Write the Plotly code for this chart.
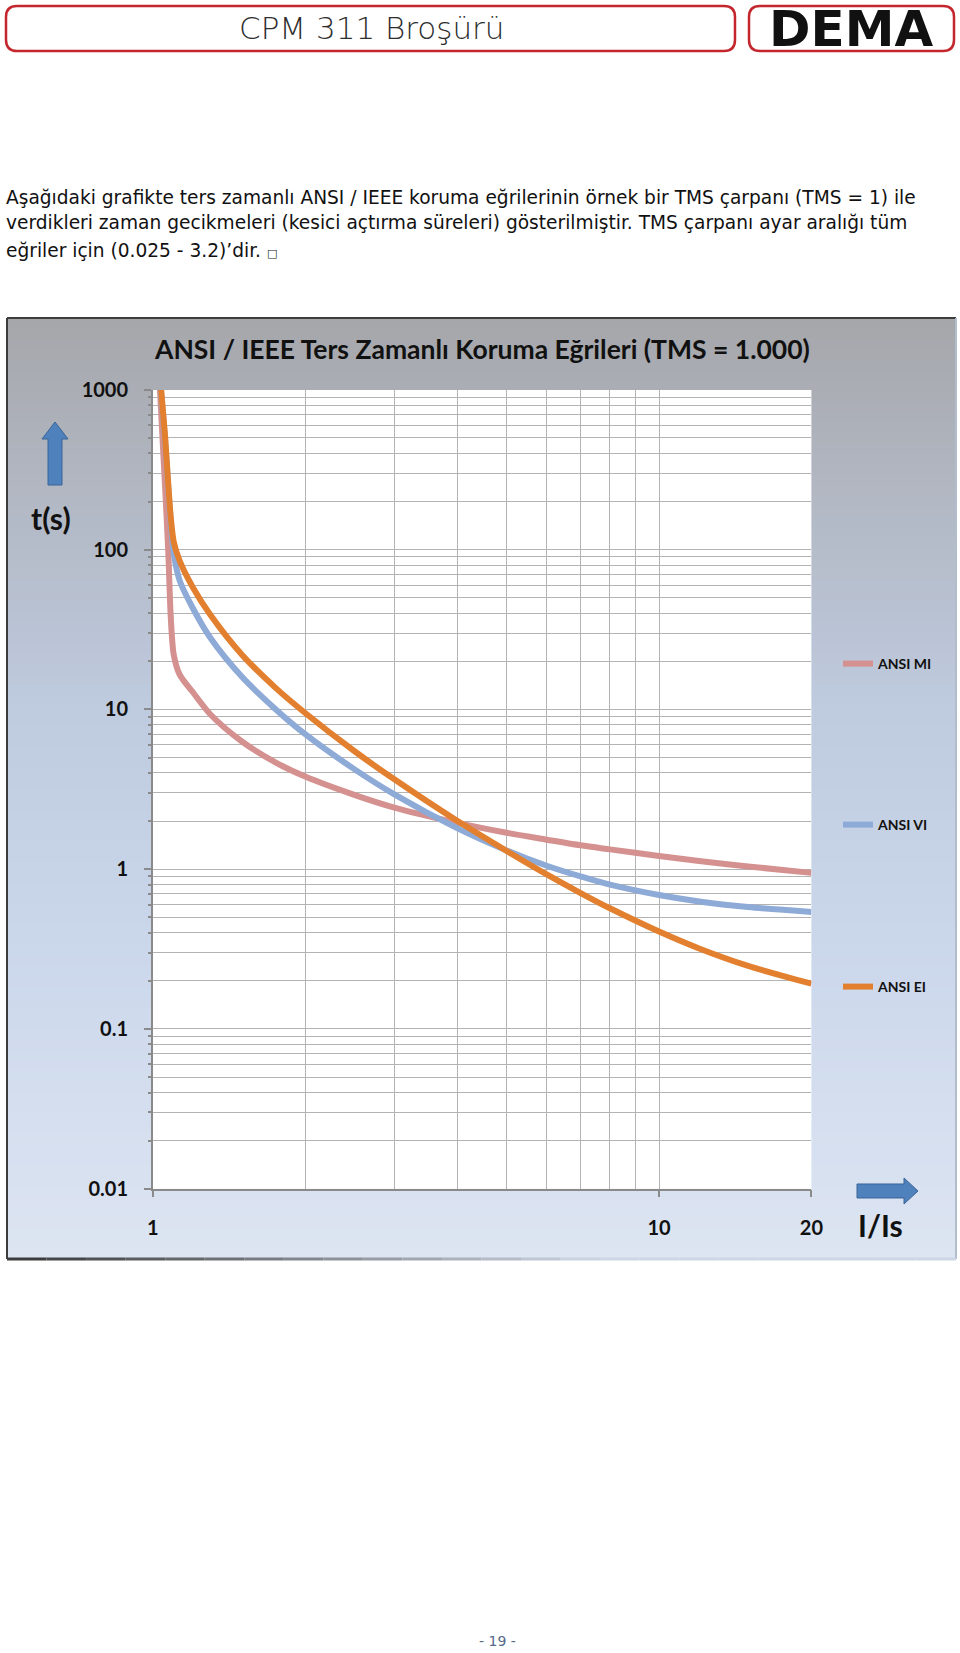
import plotly.graph_objects as go

W, H = 960, 1653

# ---------------- data ----------------
mi_x = [1.03, 1.057, 1.073, 1.085, 1.1, 1.13, 1.2, 1.3, 1.5, 1.75, 2, 2.5, 3, 4, 5, 6, 7, 8, 10, 12, 15, 20]
mi_t = [1200, 254, 97, 38, 22, 16.5, 12.8, 9.3, 6.3, 4.65, 3.8, 2.92, 2.43, 1.95, 1.69, 1.53, 1.41, 1.33, 1.21, 1.125, 1.04, 0.948]
vi_x = [1.035, 1.057, 1.073, 1.085, 1.1, 1.13, 1.2, 1.3, 1.5, 1.75, 2, 2.5, 3, 4, 5, 6, 7, 8, 10, 12, 15, 20]
vi_t = [1080, 500, 245, 150, 95, 64, 43, 28, 16, 10, 7.0, 4.23, 2.94, 1.80, 1.31, 1.05, 0.90, 0.80, 0.689, 0.628, 0.579, 0.540]
ei_x = [1.035, 1.057, 1.073, 1.085, 1.1, 1.13, 1.2, 1.3, 1.5, 1.75, 2, 2.5, 3, 4, 5, 6, 7, 8, 10, 12, 15, 20]
ei_t = [1150, 520, 255, 160, 112, 85, 58, 39, 22, 13.6, 9.5, 5.49, 3.65, 2.0, 1.30, 0.927, 0.709, 0.569, 0.407, 0.319, 0.248, 0.192]

series_names = ["ANSI MI", "ANSI VI", "ANSI EI"]
series_colors = ["#d4918f", "#8eaad6", "#e3802f"]

x_tick_vals = [1, 10, 20]
x_tick_text = ["1", "10", "20"]
y_tick_vals = [0.01, 0.1, 1, 10, 100, 1000]
y_tick_text = ["0.01", "0.1", "1", "10", "100", "1000"]

header_title = "CPM 311 Broşürü"
brand = "DEMA"
para_lines = [
    "Aşağıdaki grafikte ters zamanlı ANSI / IEEE koruma eğrilerinin örnek bir TMS çarpanı (TMS = 1) ile",
    "verdikleri zaman gecikmeleri (kesici açtırma süreleri) gösterilmiştir. TMS çarpanı ayar aralığı tüm",
    "eğriler için (0.025 - 3.2)’dir. <span style='font-size:11px'>□</span>",
]
chart_title = "ANSI / IEEE Ters Zamanlı Koruma Eğrileri (TMS = 1.000)"
y_label = "t(s)"
x_label = "I/Is"
footer = "- 19 -"


# ---------------- helpers (page pixels -> paper) ----------------
def px(x):
    return x / W


def py(y):
    return 1 - y / H


def path_from(points):
    return "M " + " L ".join(f"{px(a):.5f},{py(b):.5f}" for a, b in points) + " Z"


def rounded_rect(x0, y0, x1, y1, r):
    p = [
        f"M {px(x0 + r):.5f},{py(y0):.5f}",
        f"L {px(x1 - r):.5f},{py(y0):.5f}",
        f"Q {px(x1):.5f},{py(y0):.5f} {px(x1):.5f},{py(y0 + r):.5f}",
        f"L {px(x1):.5f},{py(y1 - r):.5f}",
        f"Q {px(x1):.5f},{py(y1):.5f} {px(x1 - r):.5f},{py(y1):.5f}",
        f"L {px(x0 + r):.5f},{py(y1):.5f}",
        f"Q {px(x0):.5f},{py(y1):.5f} {px(x0):.5f},{py(y1 - r):.5f}",
        f"L {px(x0):.5f},{py(y0 + r):.5f}",
        f"Q {px(x0):.5f},{py(y0):.5f} {px(x0 + r):.5f},{py(y0):.5f}",
        "Z",
    ]
    return " ".join(p)


def lerp_color(stops, y):
    for (ya, ca), (yb, cb) in zip(stops, stops[1:]):
        if ya <= y <= yb:
            t = (y - ya) / (yb - ya)
            c = [round(ca[i] + (cb[i] - ca[i]) * t) for i in range(3)]
            return f"rgb({c[0]},{c[1]},{c[2]})"
    c = stops[-1][1]
    return f"rgb({c[0]},{c[1]},{c[2]})"


# chart box geometry (page pixels)
CX0, CX1, CY0, CY1 = 7, 956, 318, 1259
PX0, PX1, PY0, PY1 = 152.8, 811.4, 389.9, 1188.7

shapes = []
grad_stops = [(CY0, (165, 166, 170)), (480, (177, 182, 193)), (700, (190, 202, 222)),
              (950, (203, 215, 235)), (CY1, (221, 229, 242))]
N = 90
for i in range(N):
    ya = CY0 + (CY1 - CY0) * i / N
    yb = CY0 + (CY1 - CY0) * (i + 1) / N
    shapes.append(dict(type="rect", xref="paper", yref="paper", layer="below",
                       x0=px(CX0), x1=px(CX1), y0=py(min(yb + 0.8, CY1)), y1=py(ya),
                       fillcolor=lerp_color(grad_stops, (ya + yb) / 2), line=dict(width=0)))
shapes.append(dict(type="rect", xref="paper", yref="paper", layer="below",
                   x0=px(PX0), x1=px(PX1), y0=py(PY1), y1=py(PY0),
                   fillcolor="white", line=dict(width=0)))
shapes.append(dict(type="line", xref="paper", yref="paper", x0=px(CX0), x1=px(CX1), y0=py(CY0), y1=py(CY0),
                   line=dict(color="#3c3c3c", width=2)))
shapes.append(dict(type="line", xref="paper", yref="paper", x0=px(CX0), x1=px(CX0), y0=py(CY0), y1=py(CY1),
                   line=dict(color="#3c3c3c", width=2)))
shapes.append(dict(type="line", xref="paper", yref="paper", x0=px(CX1), x1=px(CX1), y0=py(CY0), y1=py(CY1),
                   line=dict(color="#b3bccb", width=2)))
NB = 24
for i in range(NB):
    xa = CX0 + (CX1 - CX0) * i / NB
    xb = CX0 + (CX1 - CX0) * (i + 1) / NB
    t = min(1.0, i / (NB * 0.6))
    c = [round(60 + (205 - 60) * t), round(60 + (214 - 60) * t), round(60 + (228 - 60) * t)]
    shapes.append(dict(type="line", xref="paper", yref="paper", x0=px(xa), x1=px(xb), y0=py(CY1), y1=py(CY1),
                       line=dict(color=f"rgb({c[0]},{c[1]},{c[2]})", width=3)))

# header boxes
shapes.append(dict(type="path", xref="paper", yref="paper", path=rounded_rect(6, 6, 735, 51, 11),
                   line=dict(color="#c4262e", width=2.5), fillcolor="white"))
shapes.append(dict(type="path", xref="paper", yref="paper", path=rounded_rect(749, 6, 954, 51, 11),
                   line=dict(color="#c4262e", width=2.5), fillcolor="white"))

# arrows beside the axes
up_arrow = [(55, 422), (68, 439), (62, 439), (62, 485), (48, 485), (48, 439), (42, 439)]
shapes.append(dict(type="path", xref="paper", yref="paper", path=path_from(up_arrow),
                   fillcolor="#4f81bd", line=dict(color="#3a6497", width=1)))
right_arrow = [(857, 1184), (904, 1184), (904, 1178), (918, 1191), (904, 1204), (904, 1198), (857, 1198)]
shapes.append(dict(type="path", xref="paper", yref="paper", path=path_from(right_arrow),
                   fillcolor="#4f81bd", line=dict(color="#3a6497", width=1)))

# ---------------- traces ----------------
fig = go.Figure()
legend_ids = ["legend", "legend2", "legend3"]
for name, xs, ts, col, lg in zip(series_names, [mi_x, vi_x, ei_x], [mi_t, vi_t, ei_t],
                                 series_colors, legend_ids):
    fig.add_trace(go.Scatter(x=xs, y=ts, mode="lines", name=name, legend=lg,
                             line=dict(color=col, width=6, shape="spline", smoothing=0.8)))

# ---------------- annotations ----------------
ann = []


def text(x, y, s, size, family, color="#111111", weight="normal", xanchor="center"):
    ann.append(dict(x=px(x), y=py(y), xref="paper", yref="paper", text=s, showarrow=False,
                    xanchor=xanchor, yanchor="middle",
                    font=dict(family=family, size=size, color=color, weight=weight)))


text(371, 28, header_title, 31, "DejaVu Sans", color="#2e2e2e", weight=300)
text(851, 29, brand, 50, "DejaVu Sans", color="#111111", weight="bold")
for s, yy in zip(para_lines, [197, 223, 250]):
    text(4, yy, s, 18.6, "DejaVu Sans", color="#111111", xanchor="left")
text(482, 349, chart_title, 26.5, "Lato", color="#111111", weight="bold")
text(51, 518, y_label, 30, "Lato", color="#111111", weight="bold")
text(880, 1225, x_label, 30, "Lato", color="#111111", weight="bold")
text(497, 1641, footer, 14, "DejaVu Sans", color="#56698a")

# ---------------- layout ----------------
minor_y = [m * 10 ** k for k in range(-2, 3) for m in range(2, 10)]
minor_x = list(range(2, 10))
grid_col = "#b3b3b3"
tick_font = dict(family="Lato", size=20, color="#111111", weight="bold")

legend_common = dict(xanchor="left", yanchor="middle", bgcolor="rgba(0,0,0,0)", borderwidth=0,
                     font=dict(family="Lato", size=14, color="#111111", weight="bold"),
                     itemwidth=30)
legend_y = [664, 825, 987]

layout = dict(
    width=W, height=H,
    margin=dict(l=0, r=0, t=0, b=0, autoexpand=False),
    paper_bgcolor="white", plot_bgcolor="rgba(0,0,0,0)",
    showlegend=True,
    shapes=shapes,
    annotations=ann,
    xaxis=dict(type="log", range=[0, 1.30103], domain=[px(PX0), px(PX1)], automargin=False,
               tickmode="array", tickvals=x_tick_vals, ticktext=x_tick_text,
               ticks="outside", ticklen=7, tickcolor="#8a8a8a", tickwidth=1.5,
               showline=True, linecolor="#8a8a8a", linewidth=1.5,
               showgrid=True, gridcolor=grid_col, gridwidth=1.2,
               minor=dict(tickmode="array", tickvals=minor_x, showgrid=True, gridcolor=grid_col,
                          gridwidth=1.2, ticks=""),
               tickfont=tick_font, ticklabelstandoff=14, zeroline=False, fixedrange=True),
    yaxis=dict(type="log", range=[-2, 3], domain=[py(PY1), py(PY0)], automargin=False,
               tickmode="array", tickvals=y_tick_vals, ticktext=y_tick_text,
               ticks="outside", ticklen=7, tickcolor="#8a8a8a", tickwidth=1.5,
               showline=True, linecolor="#8a8a8a", linewidth=1.5,
               showgrid=True, gridcolor=grid_col, gridwidth=1.2,
               minor=dict(tickmode="array", tickvals=minor_y, showgrid=True, gridcolor=grid_col,
                          gridwidth=1.2, ticks="outside", ticklen=3, tickcolor="#8a8a8a"),
               tickfont=tick_font, ticklabelstandoff=12, zeroline=False, fixedrange=True),
)
for lg, yy in zip(legend_ids, legend_y):
    layout[lg] = dict(legend_common, x=px(838), y=py(yy))

fig.update_layout(**layout)

fig.write_html("out.html", config={"displayModeBar": False},
               post_script="document.body.style.margin='0';document.documentElement.style.overflow='hidden';")
